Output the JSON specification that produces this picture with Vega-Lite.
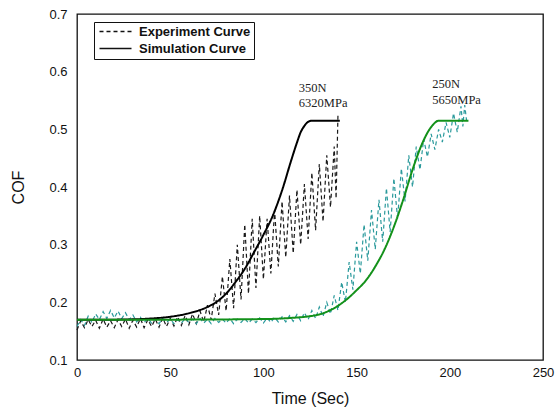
{
  "$schema": "https://vega.github.io/schema/vega-lite/v6.json",
  "autosize": {"type": "none"},
  "padding": {"left": 77, "top": 14, "right": 12, "bottom": 54},
  "width": 466,
  "height": 346,
  "background": "white",
  "config": {
    "view": {"stroke": "#111", "strokeWidth": 1.3},
    "axis": {
      "domain": false, "ticks": false, "tickSize": 0, "grid": false,
      "labelFont": "Liberation Sans", "labelFontSize": 13, "labelColor": "#111",
      "titleFont": "Liberation Sans", "titleFontSize": 16, "titleFontWeight": "normal", "titleColor": "#111"
    }
  },
  "data": {"values": [
    {"series":"exp350","type":"Experiment Curve","time":0,"cof":0.152},
    {"series":"exp350","type":"Experiment Curve","time":2,"cof":0.168},
    {"series":"exp350","type":"Experiment Curve","time":4,"cof":0.156},
    {"series":"exp350","type":"Experiment Curve","time":6,"cof":0.170},
    {"series":"exp350","type":"Experiment Curve","time":8,"cof":0.158},
    {"series":"exp350","type":"Experiment Curve","time":10,"cof":0.169},
    {"series":"exp350","type":"Experiment Curve","time":12,"cof":0.155},
    {"series":"exp350","type":"Experiment Curve","time":14,"cof":0.171},
    {"series":"exp350","type":"Experiment Curve","time":16,"cof":0.157},
    {"series":"exp350","type":"Experiment Curve","time":18,"cof":0.168},
    {"series":"exp350","type":"Experiment Curve","time":20,"cof":0.156},
    {"series":"exp350","type":"Experiment Curve","time":22,"cof":0.170},
    {"series":"exp350","type":"Experiment Curve","time":24,"cof":0.158},
    {"series":"exp350","type":"Experiment Curve","time":26,"cof":0.171},
    {"series":"exp350","type":"Experiment Curve","time":28,"cof":0.155},
    {"series":"exp350","type":"Experiment Curve","time":30,"cof":0.169},
    {"series":"exp350","type":"Experiment Curve","time":32,"cof":0.157},
    {"series":"exp350","type":"Experiment Curve","time":34,"cof":0.172},
    {"series":"exp350","type":"Experiment Curve","time":36,"cof":0.156},
    {"series":"exp350","type":"Experiment Curve","time":38,"cof":0.170},
    {"series":"exp350","type":"Experiment Curve","time":40,"cof":0.158},
    {"series":"exp350","type":"Experiment Curve","time":42,"cof":0.171},
    {"series":"exp350","type":"Experiment Curve","time":44,"cof":0.157},
    {"series":"exp350","type":"Experiment Curve","time":46,"cof":0.173},
    {"series":"exp350","type":"Experiment Curve","time":48,"cof":0.158},
    {"series":"exp350","type":"Experiment Curve","time":50,"cof":0.172},
    {"series":"exp350","type":"Experiment Curve","time":52,"cof":0.159},
    {"series":"exp350","type":"Experiment Curve","time":54,"cof":0.175},
    {"series":"exp350","type":"Experiment Curve","time":56,"cof":0.160},
    {"series":"exp350","type":"Experiment Curve","time":58,"cof":0.177},
    {"series":"exp350","type":"Experiment Curve","time":60,"cof":0.161},
    {"series":"exp350","type":"Experiment Curve","time":62,"cof":0.180},
    {"series":"exp350","type":"Experiment Curve","time":64,"cof":0.163},
    {"series":"exp350","type":"Experiment Curve","time":66,"cof":0.185},
    {"series":"exp350","type":"Experiment Curve","time":68,"cof":0.166},
    {"series":"exp350","type":"Experiment Curve","time":70,"cof":0.195},
    {"series":"exp350","type":"Experiment Curve","time":72,"cof":0.170},
    {"series":"exp350","type":"Experiment Curve","time":74,"cof":0.215},
    {"series":"exp350","type":"Experiment Curve","time":76,"cof":0.178},
    {"series":"exp350","type":"Experiment Curve","time":78,"cof":0.245},
    {"series":"exp350","type":"Experiment Curve","time":80,"cof":0.185},
    {"series":"exp350","type":"Experiment Curve","time":82,"cof":0.275},
    {"series":"exp350","type":"Experiment Curve","time":84,"cof":0.190},
    {"series":"exp350","type":"Experiment Curve","time":86,"cof":0.300},
    {"series":"exp350","type":"Experiment Curve","time":88,"cof":0.205},
    {"series":"exp350","type":"Experiment Curve","time":90,"cof":0.335},
    {"series":"exp350","type":"Experiment Curve","time":92,"cof":0.215},
    {"series":"exp350","type":"Experiment Curve","time":94,"cof":0.345},
    {"series":"exp350","type":"Experiment Curve","time":96,"cof":0.225},
    {"series":"exp350","type":"Experiment Curve","time":98,"cof":0.350},
    {"series":"exp350","type":"Experiment Curve","time":100,"cof":0.240},
    {"series":"exp350","type":"Experiment Curve","time":102,"cof":0.345},
    {"series":"exp350","type":"Experiment Curve","time":104,"cof":0.250},
    {"series":"exp350","type":"Experiment Curve","time":106,"cof":0.360},
    {"series":"exp350","type":"Experiment Curve","time":108,"cof":0.262},
    {"series":"exp350","type":"Experiment Curve","time":110,"cof":0.375},
    {"series":"exp350","type":"Experiment Curve","time":112,"cof":0.278},
    {"series":"exp350","type":"Experiment Curve","time":114,"cof":0.385},
    {"series":"exp350","type":"Experiment Curve","time":116,"cof":0.285},
    {"series":"exp350","type":"Experiment Curve","time":118,"cof":0.395},
    {"series":"exp350","type":"Experiment Curve","time":120,"cof":0.300},
    {"series":"exp350","type":"Experiment Curve","time":122,"cof":0.405},
    {"series":"exp350","type":"Experiment Curve","time":124,"cof":0.310},
    {"series":"exp350","type":"Experiment Curve","time":126,"cof":0.425},
    {"series":"exp350","type":"Experiment Curve","time":128,"cof":0.325},
    {"series":"exp350","type":"Experiment Curve","time":130,"cof":0.440},
    {"series":"exp350","type":"Experiment Curve","time":132,"cof":0.340},
    {"series":"exp350","type":"Experiment Curve","time":134,"cof":0.455},
    {"series":"exp350","type":"Experiment Curve","time":136,"cof":0.365},
    {"series":"exp350","type":"Experiment Curve","time":138,"cof":0.470},
    {"series":"exp350","type":"Experiment Curve","time":139,"cof":0.380},
    {"series":"exp350","type":"Experiment Curve","time":140,"cof":0.525},

    {"series":"exp250","type":"Experiment Curve","time":0,"cof":0.158},
    {"series":"exp250","type":"Experiment Curve","time":2,"cof":0.170},
    {"series":"exp250","type":"Experiment Curve","time":4,"cof":0.160},
    {"series":"exp250","type":"Experiment Curve","time":6,"cof":0.176},
    {"series":"exp250","type":"Experiment Curve","time":8,"cof":0.165},
    {"series":"exp250","type":"Experiment Curve","time":10,"cof":0.180},
    {"series":"exp250","type":"Experiment Curve","time":12,"cof":0.170},
    {"series":"exp250","type":"Experiment Curve","time":14,"cof":0.184},
    {"series":"exp250","type":"Experiment Curve","time":16,"cof":0.172},
    {"series":"exp250","type":"Experiment Curve","time":18,"cof":0.186},
    {"series":"exp250","type":"Experiment Curve","time":20,"cof":0.173},
    {"series":"exp250","type":"Experiment Curve","time":22,"cof":0.185},
    {"series":"exp250","type":"Experiment Curve","time":24,"cof":0.172},
    {"series":"exp250","type":"Experiment Curve","time":26,"cof":0.182},
    {"series":"exp250","type":"Experiment Curve","time":28,"cof":0.170},
    {"series":"exp250","type":"Experiment Curve","time":30,"cof":0.178},
    {"series":"exp250","type":"Experiment Curve","time":32,"cof":0.166},
    {"series":"exp250","type":"Experiment Curve","time":34,"cof":0.174},
    {"series":"exp250","type":"Experiment Curve","time":36,"cof":0.165},
    {"series":"exp250","type":"Experiment Curve","time":38,"cof":0.172},
    {"series":"exp250","type":"Experiment Curve","time":40,"cof":0.164},
    {"series":"exp250","type":"Experiment Curve","time":42,"cof":0.171},
    {"series":"exp250","type":"Experiment Curve","time":44,"cof":0.163},
    {"series":"exp250","type":"Experiment Curve","time":46,"cof":0.172},
    {"series":"exp250","type":"Experiment Curve","time":48,"cof":0.165},
    {"series":"exp250","type":"Experiment Curve","time":50,"cof":0.171},
    {"series":"exp250","type":"Experiment Curve","time":52,"cof":0.163},
    {"series":"exp250","type":"Experiment Curve","time":54,"cof":0.170},
    {"series":"exp250","type":"Experiment Curve","time":56,"cof":0.164},
    {"series":"exp250","type":"Experiment Curve","time":58,"cof":0.172},
    {"series":"exp250","type":"Experiment Curve","time":60,"cof":0.165},
    {"series":"exp250","type":"Experiment Curve","time":62,"cof":0.171},
    {"series":"exp250","type":"Experiment Curve","time":64,"cof":0.163},
    {"series":"exp250","type":"Experiment Curve","time":66,"cof":0.172},
    {"series":"exp250","type":"Experiment Curve","time":68,"cof":0.164},
    {"series":"exp250","type":"Experiment Curve","time":70,"cof":0.171},
    {"series":"exp250","type":"Experiment Curve","time":72,"cof":0.163},
    {"series":"exp250","type":"Experiment Curve","time":74,"cof":0.172},
    {"series":"exp250","type":"Experiment Curve","time":76,"cof":0.165},
    {"series":"exp250","type":"Experiment Curve","time":78,"cof":0.171},
    {"series":"exp250","type":"Experiment Curve","time":80,"cof":0.164},
    {"series":"exp250","type":"Experiment Curve","time":82,"cof":0.172},
    {"series":"exp250","type":"Experiment Curve","time":84,"cof":0.163},
    {"series":"exp250","type":"Experiment Curve","time":86,"cof":0.171},
    {"series":"exp250","type":"Experiment Curve","time":88,"cof":0.165},
    {"series":"exp250","type":"Experiment Curve","time":90,"cof":0.172},
    {"series":"exp250","type":"Experiment Curve","time":92,"cof":0.164},
    {"series":"exp250","type":"Experiment Curve","time":94,"cof":0.171},
    {"series":"exp250","type":"Experiment Curve","time":96,"cof":0.165},
    {"series":"exp250","type":"Experiment Curve","time":98,"cof":0.173},
    {"series":"exp250","type":"Experiment Curve","time":100,"cof":0.164},
    {"series":"exp250","type":"Experiment Curve","time":102,"cof":0.173},
    {"series":"exp250","type":"Experiment Curve","time":104,"cof":0.165},
    {"series":"exp250","type":"Experiment Curve","time":106,"cof":0.174},
    {"series":"exp250","type":"Experiment Curve","time":108,"cof":0.166},
    {"series":"exp250","type":"Experiment Curve","time":110,"cof":0.175},
    {"series":"exp250","type":"Experiment Curve","time":112,"cof":0.166},
    {"series":"exp250","type":"Experiment Curve","time":114,"cof":0.177},
    {"series":"exp250","type":"Experiment Curve","time":116,"cof":0.167},
    {"series":"exp250","type":"Experiment Curve","time":118,"cof":0.179},
    {"series":"exp250","type":"Experiment Curve","time":120,"cof":0.168},
    {"series":"exp250","type":"Experiment Curve","time":122,"cof":0.182},
    {"series":"exp250","type":"Experiment Curve","time":124,"cof":0.170},
    {"series":"exp250","type":"Experiment Curve","time":126,"cof":0.186},
    {"series":"exp250","type":"Experiment Curve","time":128,"cof":0.172},
    {"series":"exp250","type":"Experiment Curve","time":130,"cof":0.192},
    {"series":"exp250","type":"Experiment Curve","time":132,"cof":0.175},
    {"series":"exp250","type":"Experiment Curve","time":134,"cof":0.200},
    {"series":"exp250","type":"Experiment Curve","time":136,"cof":0.180},
    {"series":"exp250","type":"Experiment Curve","time":138,"cof":0.212},
    {"series":"exp250","type":"Experiment Curve","time":140,"cof":0.186},
    {"series":"exp250","type":"Experiment Curve","time":142,"cof":0.235},
    {"series":"exp250","type":"Experiment Curve","time":144,"cof":0.200},
    {"series":"exp250","type":"Experiment Curve","time":146,"cof":0.270},
    {"series":"exp250","type":"Experiment Curve","time":148,"cof":0.222},
    {"series":"exp250","type":"Experiment Curve","time":150,"cof":0.305},
    {"series":"exp250","type":"Experiment Curve","time":152,"cof":0.250},
    {"series":"exp250","type":"Experiment Curve","time":154,"cof":0.335},
    {"series":"exp250","type":"Experiment Curve","time":156,"cof":0.272},
    {"series":"exp250","type":"Experiment Curve","time":158,"cof":0.360},
    {"series":"exp250","type":"Experiment Curve","time":160,"cof":0.292},
    {"series":"exp250","type":"Experiment Curve","time":162,"cof":0.378},
    {"series":"exp250","type":"Experiment Curve","time":164,"cof":0.305},
    {"series":"exp250","type":"Experiment Curve","time":166,"cof":0.398},
    {"series":"exp250","type":"Experiment Curve","time":168,"cof":0.322},
    {"series":"exp250","type":"Experiment Curve","time":170,"cof":0.415},
    {"series":"exp250","type":"Experiment Curve","time":172,"cof":0.345},
    {"series":"exp250","type":"Experiment Curve","time":174,"cof":0.432},
    {"series":"exp250","type":"Experiment Curve","time":176,"cof":0.375},
    {"series":"exp250","type":"Experiment Curve","time":178,"cof":0.455},
    {"series":"exp250","type":"Experiment Curve","time":180,"cof":0.400},
    {"series":"exp250","type":"Experiment Curve","time":182,"cof":0.470},
    {"series":"exp250","type":"Experiment Curve","time":184,"cof":0.430},
    {"series":"exp250","type":"Experiment Curve","time":186,"cof":0.483},
    {"series":"exp250","type":"Experiment Curve","time":188,"cof":0.452},
    {"series":"exp250","type":"Experiment Curve","time":190,"cof":0.492},
    {"series":"exp250","type":"Experiment Curve","time":192,"cof":0.465},
    {"series":"exp250","type":"Experiment Curve","time":194,"cof":0.500},
    {"series":"exp250","type":"Experiment Curve","time":196,"cof":0.478},
    {"series":"exp250","type":"Experiment Curve","time":198,"cof":0.512},
    {"series":"exp250","type":"Experiment Curve","time":200,"cof":0.486},
    {"series":"exp250","type":"Experiment Curve","time":202,"cof":0.528},
    {"series":"exp250","type":"Experiment Curve","time":204,"cof":0.495},
    {"series":"exp250","type":"Experiment Curve","time":206,"cof":0.540},
    {"series":"exp250","type":"Experiment Curve","time":207,"cof":0.505},
    {"series":"exp250","type":"Experiment Curve","time":208,"cof":0.542},
    {"series":"exp250","type":"Experiment Curve","time":209,"cof":0.515},

    {"series":"sim350","type":"Simulation Curve","time":0,"cof":0.170},
    {"series":"sim350","type":"Simulation Curve","time":20,"cof":0.170},
    {"series":"sim350","type":"Simulation Curve","time":40,"cof":0.172},
    {"series":"sim350","type":"Simulation Curve","time":50,"cof":0.175},
    {"series":"sim350","type":"Simulation Curve","time":60,"cof":0.181},
    {"series":"sim350","type":"Simulation Curve","time":70,"cof":0.192},
    {"series":"sim350","type":"Simulation Curve","time":75,"cof":0.201},
    {"series":"sim350","type":"Simulation Curve","time":80,"cof":0.215},
    {"series":"sim350","type":"Simulation Curve","time":85,"cof":0.235},
    {"series":"sim350","type":"Simulation Curve","time":90,"cof":0.258},
    {"series":"sim350","type":"Simulation Curve","time":95,"cof":0.287},
    {"series":"sim350","type":"Simulation Curve","time":100,"cof":0.317},
    {"series":"sim350","type":"Simulation Curve","time":105,"cof":0.350},
    {"series":"sim350","type":"Simulation Curve","time":110,"cof":0.394},
    {"series":"sim350","type":"Simulation Curve","time":115,"cof":0.447},
    {"series":"sim350","type":"Simulation Curve","time":118,"cof":0.477},
    {"series":"sim350","type":"Simulation Curve","time":120,"cof":0.495},
    {"series":"sim350","type":"Simulation Curve","time":122,"cof":0.506},
    {"series":"sim350","type":"Simulation Curve","time":124,"cof":0.513},
    {"series":"sim350","type":"Simulation Curve","time":126,"cof":0.515},
    {"series":"sim350","type":"Simulation Curve","time":141,"cof":0.515},

    {"series":"sim250","type":"Simulation Curve","time":0,"cof":0.170},
    {"series":"sim250","type":"Simulation Curve","time":50,"cof":0.170},
    {"series":"sim250","type":"Simulation Curve","time":100,"cof":0.171},
    {"series":"sim250","type":"Simulation Curve","time":115,"cof":0.173},
    {"series":"sim250","type":"Simulation Curve","time":125,"cof":0.176},
    {"series":"sim250","type":"Simulation Curve","time":130,"cof":0.179},
    {"series":"sim250","type":"Simulation Curve","time":135,"cof":0.185},
    {"series":"sim250","type":"Simulation Curve","time":140,"cof":0.194},
    {"series":"sim250","type":"Simulation Curve","time":145,"cof":0.206},
    {"series":"sim250","type":"Simulation Curve","time":150,"cof":0.221},
    {"series":"sim250","type":"Simulation Curve","time":155,"cof":0.238},
    {"series":"sim250","type":"Simulation Curve","time":160,"cof":0.262},
    {"series":"sim250","type":"Simulation Curve","time":165,"cof":0.292},
    {"series":"sim250","type":"Simulation Curve","time":170,"cof":0.331},
    {"series":"sim250","type":"Simulation Curve","time":175,"cof":0.378},
    {"series":"sim250","type":"Simulation Curve","time":180,"cof":0.430},
    {"series":"sim250","type":"Simulation Curve","time":185,"cof":0.474},
    {"series":"sim250","type":"Simulation Curve","time":188,"cof":0.494},
    {"series":"sim250","type":"Simulation Curve","time":191,"cof":0.508},
    {"series":"sim250","type":"Simulation Curve","time":194,"cof":0.515},
    {"series":"sim250","type":"Simulation Curve","time":210,"cof":0.515}
  ]},
  "encoding": {
    "x": {
      "field": "time", "type": "quantitative",
      "scale": {"domain": [0, 250], "nice": false, "zero": false},
      "axis": {
        "title": "Time (Sec)",
        "values": [0,50,100,150,200,250],
        "labelPadding": 6,
        "titlePadding": 11,
        "labelFlush": false
      }
    },
    "y": {
      "field": "cof", "type": "quantitative",
      "scale": {"domain": [0.1, 0.7], "nice": false, "zero": false},
      "axis": {
        "title": "COF",
        "values": [0.1,0.2,0.3,0.4,0.5,0.6,0.7],
        "format": ".1f",
        "labelPadding": 10,
        "titlePadding": 22,
        "labelFlush": false
      }
    }
  },
  "layer": [
    {
      "data": {"values": [
        {"time": 25, "kind": "minor"}, {"time": 50, "kind": "major"}, {"time": 75, "kind": "minor"},
        {"time": 100, "kind": "major"}, {"time": 125, "kind": "minor"}, {"time": 150, "kind": "major"},
        {"time": 175, "kind": "minor"}, {"time": 200, "kind": "major"}, {"time": 225, "kind": "minor"}
      ]},
      "mark": {"type": "tick", "orient": "vertical", "thickness": 1.2, "color": "#111", "clip": true, "opacity": 1},
      "encoding": {
        "x": {"field": "time", "type": "quantitative"},
        "y": {"datum": 0.1},
        "size": {"field": "kind", "type": "ordinal", "scale": {"domain": ["major", "minor"], "range": [12, 8]}, "legend": null}
      }
    },
    {
      "data": {"values": [
        {"cof": 0.15, "kind": "minor"}, {"cof": 0.2, "kind": "major"}, {"cof": 0.25, "kind": "minor"},
        {"cof": 0.3, "kind": "major"}, {"cof": 0.35, "kind": "minor"}, {"cof": 0.4, "kind": "major"},
        {"cof": 0.45, "kind": "minor"}, {"cof": 0.5, "kind": "major"}, {"cof": 0.55, "kind": "minor"},
        {"cof": 0.6, "kind": "major"}, {"cof": 0.65, "kind": "minor"}
      ]},
      "mark": {"type": "tick", "orient": "horizontal", "thickness": 1.2, "color": "#111", "clip": true, "opacity": 1},
      "encoding": {
        "y": {"field": "cof", "type": "quantitative"},
        "x": {"datum": 0},
        "size": {"field": "kind", "type": "ordinal", "scale": {"domain": ["major", "minor"], "range": [12, 8]}, "legend": null}
      }
    },
    {
      "transform": [{"filter": "datum.type === 'Experiment Curve'"}],
      "mark": {"type": "line", "strokeWidth": 1.2},
      "encoding": {
        "detail": {"field": "series", "type": "nominal"},
        "color": {"field": "series", "type": "nominal", "legend": null,
          "scale": {"domain": ["exp350","exp250","sim350","sim250"], "range": ["#1a1a1a","#2b9a9c","#000000","#13911a"]}},
        "strokeDash": {"field": "type", "type": "nominal",
          "scale": {"domain": ["Experiment Curve","Simulation Curve"], "range": [[4,3],[1,0]]},
          "legend": {
            "title": null, "orient": "none", "legendX": 17, "legendY": 8,
            "strokeColor": "#111", "padding": 3,
            "symbolType": "M-1,0H7", "symbolSize": 64, "symbolStrokeWidth": 1.5, "symbolStrokeColor": "#111",
            "labelFont": "Liberation Sans", "labelFontSize": 13, "labelFontWeight": "bold", "labelColor": "#111",
            "labelOffset": 29, "rowPadding": 3
          }}
      }
    },
    {
      "transform": [{"filter": "datum.type === 'Simulation Curve'"}],
      "mark": {"type": "line", "strokeWidth": 2, "interpolate": "monotone"},
      "encoding": {
        "detail": {"field": "series", "type": "nominal"},
        "color": {"field": "series", "type": "nominal", "legend": null},
        "strokeDash": {"field": "type", "type": "nominal"}
      }
    },
    {
      "data": {"values": [
        {"time": 119, "cof": 0.565, "label": "350N"},
        {"time": 119, "cof": 0.538, "label": "6320MPa"},
        {"time": 190.6, "cof": 0.571, "label": "250N"},
        {"time": 190.6, "cof": 0.544, "label": "5650MPa"}
      ]},
      "mark": {"type": "text", "align": "left", "baseline": "alphabetic", "font": "Liberation Serif", "fontSize": 12.5, "color": "#222"},
      "encoding": {
        "text": {"field": "label", "type": "nominal"}
      }
    }
  ]
}
